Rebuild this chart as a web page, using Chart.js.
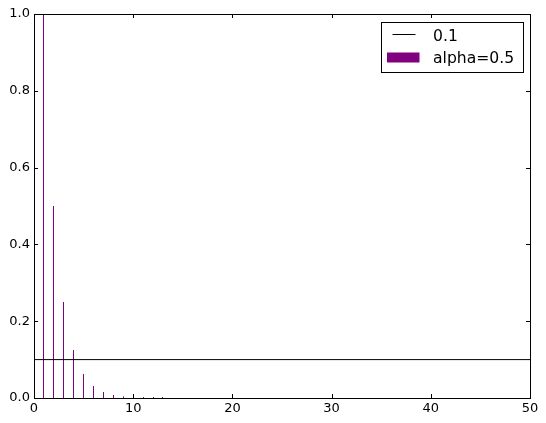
<!DOCTYPE html>
<html>
<head>
<meta charset="utf-8">
<script src="https://cdn.jsdelivr.net/npm/chart.js@4/dist/chart.umd.min.js"></script>
<style>
  html, body { margin: 0; padding: 0; background: #fff; }
  canvas { display: block; }
</style>
</head>
<body>
<canvas id="myChart" width="546" height="423"></canvas>
<script>
// bar positions and heights
const barX = [1, 2, 3, 4, 5, 6, 7, 8, 9, 10, 11, 12, 13];
const barY = [1, 0.5, 0.25, 0.125, 0.0625, 0.03125, 0.015625, 0.0078125,
              0.00390625, 0.001953125, 0.0009765625, 0.00048828125, 0.000244140625];
// horizontal reference line
const lineX = [0, 50];
const lineY = [0.1, 0.1];
const xTicks = [0, 10, 20, 30, 40, 50];
const yTicks = [0, 0.2, 0.4, 0.6, 0.8, 1.0];

const FONT = "'DejaVu Sans', sans-serif";

// snap the thin bars onto whole pixels so they stay crisp
const snapBars = {
  id: 'snapBars',
  beforeDatasetsDraw(chart) {
    const meta = chart.getDatasetMeta(0);
    meta.data.forEach(el => { el.x = Math.floor(el.x) + 0.5; });
  }
};

// frame, inside ticks and boxed legend like matplotlib classic
const mplFrame = {
  id: 'mplFrame',
  afterDraw(chart) {
    const c = chart.ctx;
    const a = chart.chartArea;
    const sx = chart.scales.x, sy = chart.scales.y;
    c.save();
    c.strokeStyle = '#000';
    c.lineWidth = 1;
    c.beginPath();
    xTicks.forEach(v => {
      const px = Math.round(sx.getPixelForValue(v)) + 0.5;
      c.moveTo(px, a.bottom); c.lineTo(px, a.bottom - 4);
      c.moveTo(px, a.top); c.lineTo(px, a.top + 4);
    });
    yTicks.forEach(v => {
      const py = Math.round(sy.getPixelForValue(v)) + 0.5;
      c.moveTo(a.left, py); c.lineTo(a.left + 4, py);
      c.moveTo(a.right, py); c.lineTo(a.right - 4, py);
    });
    c.stroke();
    c.strokeRect(Math.round(a.left) + 0.5, Math.round(a.top) + 0.5,
                 Math.round(a.right - a.left), Math.round(a.bottom - a.top));

    // legend
    const ds = chart.data.datasets;
    const bw = 142, bh = 50;
    const bx = Math.round(a.right - 7 - bw) + 0.5;
    const by = Math.round(a.top + 8) + 0.5;
    c.fillStyle = '#fff';
    c.fillRect(bx, by, bw, bh);
    c.strokeRect(bx, by, bw, bh);
    c.font = '15.6px ' + FONT;
    c.textBaseline = 'alphabetic';
    // line entry
    c.beginPath();
    c.moveTo(bx + 11, by + 12); c.lineTo(bx + 34, by + 12);
    c.strokeStyle = ds[1].borderColor;
    c.stroke();
    c.fillStyle = '#000';
    c.fillText(ds[1].label, bx + 51.5, by + 18.5);
    // patch entry
    c.fillStyle = ds[0].backgroundColor;
    c.fillRect(bx + 5.5, by + 30, 32.5, 10);
    c.fillStyle = '#000';
    c.fillText(ds[0].label, bx + 51.5, by + 40);
    c.restore();
  }
};

new Chart(document.getElementById('myChart'), {
  type: 'bar',
  data: {
    datasets: [
      {
        type: 'bar',
        label: 'alpha=0.5',
        data: barX.map((x, i) => ({ x: x, y: barY[i] })),
        backgroundColor: 'purple',
        borderWidth: 0,
        barThickness: 1,
        inflateAmount: 0,
        minBarLength: 1,
        order: 2
      },
      {
        type: 'line',
        label: '0.1',
        data: lineX.map((x, i) => ({ x: x, y: lineY[i] })),
        borderColor: '#000',
        borderWidth: 1,
        pointRadius: 0,
        fill: false,
        order: 1
      }
    ]
  },
  options: {
    responsive: false,
    animation: false,
    layout: { padding: { left: 0, right: 16, top: 14, bottom: 0 } },
    plugins: { legend: { display: false }, tooltip: { enabled: false } },
    scales: {
      x: {
        type: 'linear',
        min: 0, max: 50,
        offset: false,
        grid: { display: false, drawTicks: false },
        border: { display: false },
        afterBuildTicks: s => { s.ticks = xTicks.map(v => ({ value: v })); },
        afterFit: s => { s.height = 25; },
        ticks: { color: '#000', padding: 3, font: { family: FONT, size: 13 }, maxRotation: 0 }
      },
      y: {
        min: 0, max: 1,
        grid: { display: false, drawTicks: false },
        border: { display: false },
        afterBuildTicks: s => { s.ticks = yTicks.map(v => ({ value: v })); },
        afterFit: s => { s.width = 34; },
        ticks: {
          color: '#000', padding: 4, font: { family: FONT, size: 13 },
          callback: v => v.toFixed(1)
        }
      }
    }
  },
  plugins: [snapBars, mplFrame]
});
</script>
</body>
</html>
